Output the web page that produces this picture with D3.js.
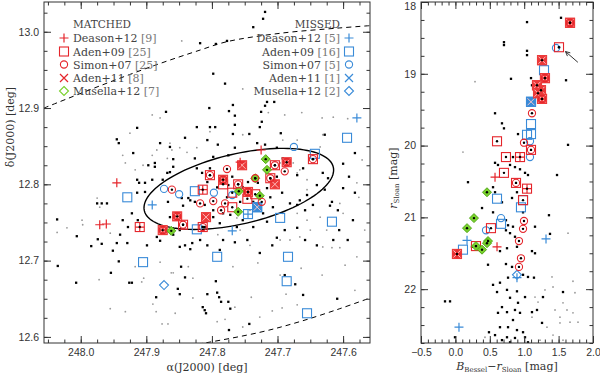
<!DOCTYPE html>
<html><head><meta charset="utf-8">
<script src="https://cdn.jsdelivr.net/npm/d3@7"></script>
<style>body{margin:0;background:#fff}svg{display:block}</style>
</head><body>
<svg id="c" width="600" height="374"></svg>
<script>
// ---------------- DATA ----------------
const catalogs = ["Deason+12","Aden+09","Simon+07","Aden+11","Musella+12"];
const matchedCounts = [9,25,25,8,7];
const missedCounts = [5,16,5,1,2];
const xTicksL = [248.0,247.9,247.8,247.7,247.6];
const yTicksL = [12.6,12.7,12.8,12.9,13.0];
const xTicksR = [-0.5,0.0,0.5,1.0,1.5,2.0];
const yTicksR = [18,19,20,21,22];

// left panel: sky positions [RA, Dec]
const starsL = [[247.870,12.895],[247.914,12.874],[247.823,12.875],[247.719,13.026],[247.722,13.017],[247.737,13.006],[247.818,12.985],[247.794,12.984],[247.777,12.988],[247.798,12.945],[247.780,12.932],[247.716,12.908],[247.705,12.908],[247.719,12.903],[247.804,12.900],[247.768,12.904],[247.774,12.896],[247.765,12.890],[247.725,12.895],[247.724,12.882],[247.727,12.875],[247.803,12.875],[247.795,12.875],[247.765,12.878],
[247.945,12.859],[247.942,12.854],[247.920,12.841],[248.036,12.754],[248.006,12.732],[247.984,12.719],[247.974,12.728],[247.968,12.722],[247.975,12.775],[247.968,12.775],[247.960,12.775],[247.914,12.806],[247.911,12.802],[247.902,12.802],[247.914,12.789],[247.891,12.806],[247.875,12.806],[247.868,12.815],[247.864,12.816],[247.902,12.790],[247.922,12.762],[247.936,12.753],[247.928,12.744],[247.913,12.753],[247.940,12.734],[247.945,12.723],[247.929,12.723],[247.951,12.713],[247.899,12.720],[247.884,12.731],[247.879,12.726],[247.872,12.736],[247.849,12.718],[247.841,12.720],[247.833,12.715],[247.830,12.723],[247.859,12.734],[247.849,12.740],[247.867,12.777],[247.846,12.782],[247.836,12.782],[247.833,12.779],[247.826,12.777],[247.844,12.772],[247.864,12.757],[247.897,12.825],[247.887,12.823],[247.887,12.828],[247.859,12.833],[247.859,12.823],[247.823,12.821],[247.826,12.834],[247.864,12.849],[247.841,12.861],[247.879,12.854],
[248.035,12.693],[248.007,12.671],[247.954,12.684],[247.942,12.699],[247.926,12.671],[247.922,12.671],[247.885,12.652],[247.852,12.663],[247.849,12.656],[247.847,12.692],[247.841,12.678],
[247.794,12.673],[247.792,12.658],[247.789,12.652],[247.786,12.646],[247.814,12.639],[247.811,12.635],[247.809,12.631],[247.775,12.646],[247.772,12.637],[247.774,12.609],[247.743,12.617],[247.807,12.656],[247.689,12.681],[247.673,12.669],[247.661,12.655],[247.609,12.650],
[247.743,12.866],[247.695,12.867],[247.628,12.865],[247.582,12.841],[247.600,12.827],[247.591,12.810],[247.623,12.808],[247.631,12.815],[247.640,12.799],[247.628,12.793],[247.600,12.795],[247.582,12.789],[247.666,12.779],[247.655,12.786],[247.646,12.773],[247.617,12.777],[247.608,12.766],[247.620,12.772],[247.658,12.766],[247.670,12.773],[247.681,12.775],[247.585,12.753],[247.606,12.740],[247.593,12.727],[247.615,12.727],[247.640,12.720],[247.658,12.727],[247.670,12.743],[247.689,12.740],[247.701,12.730],[247.708,12.720],[247.727,12.710],[247.746,12.727],[247.765,12.724],[247.783,12.727],[247.788,12.714],[247.807,12.720],[247.762,12.744],[247.737,12.744],[247.716,12.751],[247.753,12.753],[247.788,12.749],[247.798,12.757],[247.811,12.773],[247.798,12.766],[247.783,12.762],[247.777,12.783],[247.792,12.796],[247.807,12.803],[247.803,12.821],[247.788,12.810],[247.815,12.815],[247.798,12.836],[247.775,12.838],[247.765,12.848],[247.791,12.852],[247.807,12.858],[247.768,12.866],[247.731,12.854],[247.719,12.852],[247.701,12.848],[247.692,12.834],[247.661,12.821],[247.670,12.812],[247.701,12.810],[247.693,12.789],[247.711,12.783],[247.707,12.770],[247.722,12.762],[247.737,12.777],[247.753,12.796],[247.769,12.810],[247.775,12.799],[247.745,12.803],[247.730,12.802],[247.716,12.795],[247.757,12.777],[247.772,12.760],[247.811,12.744],[247.818,12.727]];

const fieldL = [[247.846,12.988],[247.891,12.891],[247.879,12.887],[247.753,12.925],[247.714,12.894],[247.689,12.891],[247.663,12.894],[247.632,12.887],[247.615,12.888],[247.593,12.886],
[247.936,12.838],[247.932,12.828],[247.905,12.825],[247.975,12.782],[247.971,12.770],[248.036,12.737],[248.021,12.743],[247.998,12.753],[247.997,12.747],[247.955,12.736],[247.864,12.854],[247.861,12.845],[247.849,12.848],[247.838,12.842],[247.823,12.848],[247.925,12.867],[247.891,12.838],[247.884,12.845],[247.917,12.819],[247.868,12.834],
[247.972,12.675],[247.955,12.637],[247.932,12.633],[247.917,12.692],[247.907,12.672],[247.904,12.677],[247.890,12.643],[247.885,12.633],[247.876,12.617],[247.867,12.617],[247.856,12.631],[247.862,12.684],[247.859,12.684],[247.836,12.692],[247.829,12.651],[247.829,12.677],[247.879,12.698],
[247.768,12.692],[247.730,12.697],[247.696,12.681],[247.687,12.656],[247.664,12.690],[247.632,12.681],[247.670,12.642],[247.740,12.652],[247.765,12.639],[247.780,12.623],[247.792,12.620],[247.708,12.634],[247.693,12.638],[247.727,12.626],[247.753,12.613],
[247.803,12.869],[247.753,12.865],[247.692,12.858],[247.670,12.858],[247.631,12.865],[247.579,12.802],[247.576,12.783],[247.605,12.775],[247.600,12.762],[247.635,12.757],[247.655,12.753],[247.670,12.762],[247.692,12.762],[247.625,12.740],[247.650,12.740],[247.666,12.731],[247.681,12.727],[247.696,12.727],[247.742,12.720],[247.631,12.718],[247.617,12.717],[247.605,12.717],[247.579,12.705],[247.670,12.815],[247.666,12.819],[247.655,12.806],[247.676,12.828],[247.650,12.842],[247.635,12.849],[247.696,12.828],[247.742,12.766],[247.762,12.756],[247.791,12.734],[247.757,12.740],[247.655,12.793],
[247.571,12.832],[247.597,12.694],[247.582,12.661],[247.567,12.740]];

// matched (red) and missed (blue) candidates, left panel
const matDeasonL = [[247.945,12.802],[247.971,12.747],[247.961,12.748],[247.725,12.845],[247.757,12.829],[247.910,12.744],[247.814,12.793]];
const matAden09L = [[247.910,12.744],[247.844,12.747],[247.646,12.833],[247.704,12.825],[247.803,12.812],[247.711,12.808],[247.760,12.800],[247.769,12.789],[247.814,12.793],[247.769,12.770],[247.814,12.744],[247.783,12.800],[247.734,12.787],[247.746,12.781]];
const matAden11L = [[247.853,12.758],[247.875,12.740],[247.754,12.825],[247.686,12.829],[247.783,12.806],[247.704,12.800],[247.745,12.790],[247.809,12.757]];
const matSimonL = [[247.861,12.793],[247.818,12.775],[247.853,12.758],[247.777,12.820],[247.689,12.817],[247.704,12.825],[247.798,12.778],[247.780,12.775],[247.786,12.766],[247.724,12.777],[247.760,12.800],[247.646,12.833],[247.803,12.812],[247.814,12.744],[247.711,12.808],[247.844,12.747],[247.745,12.790],[247.686,12.829],[247.783,12.806],[247.875,12.740],[247.734,12.808]];
const matMusellaL = [[247.862,12.739],[247.718,12.833],[247.716,12.819],[247.759,12.791],[247.727,12.785],[247.760,12.764],[247.734,12.808]];
const misDeasonL = [[247.891,12.773],[247.769,12.739],[247.579,12.887],[247.745,12.761]];
const misAden09L = [[247.929,12.783],[247.826,12.791],[247.823,12.741],[247.594,12.861],[247.643,12.840],[247.745,12.761],[247.731,12.770],[247.696,12.756],[247.617,12.751],[247.792,12.705],[247.684,12.705],[247.905,12.698],[247.686,12.673],[247.655,12.631]];
const misSimonL = [[247.873,12.794],[247.850,12.787],[247.675,12.849],[247.797,12.789],[247.769,12.786]];
const misAden11L = [[247.731,12.770]];
const misMusellaL = [[247.873,12.668]];

// tidal ellipse and dashed boundary
const ellipseL = {ra:247.759, dec:12.794, a:0.127, b:0.046, pa:13};
const dashTop = [[248.056,12.900],[247.971,12.929],[247.887,12.956],[247.818,12.976],[247.777,12.987],[247.696,12.998],[247.605,13.005],[247.559,13.008]];
const dashBot = [[247.849,12.587],[247.811,12.592],[247.727,12.606],[247.666,12.620],[247.605,12.637],[247.559,12.651]];

// right panel: CMD [B-r, r]
const starsR = [[1.535,18.22],[1.041,18.28],[0.706,18.56],[0.706,18.60],[1.041,18.68],[1.041,18.74],[1.506,18.63],[0.808,19.07],[1.608,19.09],[1.099,19.06],[1.113,19.16],[1.070,19.43],[0.576,19.55],[0.677,19.69],[0.706,19.76],[0.910,19.84],[1.637,19.99],[0.837,20.16],[0.576,20.24],[0.619,20.27],[0.794,20.27],[0.866,20.30],[0.939,20.33],[1.012,20.38],[1.055,20.41],[1.477,20.41],[0.183,20.51],[0.547,20.58],[0.576,20.65],[0.677,20.79],[0.823,20.73],[0.895,20.65],[0.983,20.93],[0.387,20.87],[0.547,20.93],[1.360,20.97],[0.735,21.04],[0.765,21.11],[0.837,21.13],[0.735,21.18],[1.157,21.13],[1.375,21.23],[0.794,21.22],[0.866,21.27],[0.241,21.41],[0.648,21.47],[0.750,21.43],[0.895,21.41],[1.113,21.47],[1.157,21.50],[0.474,21.66],[0.735,21.65],[0.823,21.69],[0.983,21.80],[1.055,21.83],[1.142,21.84],[0.765,21.84],[0.648,21.91],[0.547,21.94],[0.605,22.04],[0.750,22.01],[0.895,22.03],[0.794,22.12],[1.012,22.11],[0.910,22.19],[0.677,22.25],[0.750,22.32],[0.619,22.33],[0.866,22.29],[0.939,22.33],[1.113,22.32],[1.186,22.29],[1.259,22.47],[0.837,22.43],[0.765,22.53],[0.648,22.53],[0.895,22.57],[0.983,22.60],[0.750,22.67],[0.866,22.68],[1.012,22.67],[0.576,22.64],[0.677,22.71],[1.055,22.74],[0.794,22.74],[0.488,22.60],[-0.151,22.17],[-0.078,22.17],[-0.006,22.67],[1.273,22.11],[1.564,22.04]];
const fieldR = [[0.285,19.11],[0.110,20.09],[1.637,21.22],[1.404,21.83],[1.419,21.97],[1.709,21.89],[1.738,22.05],[1.157,22.11],[1.564,22.19],[1.448,22.29],[1.622,22.29],[1.709,22.33],[1.520,22.39],[1.666,22.46],[1.782,22.46],[1.331,22.53],[1.419,22.64],[1.564,22.71],[1.230,22.71],[0.430,22.67],[1.113,22.39],[1.201,22.18],[1.520,22.47],[1.302,22.01]];
const matAden09R = [[1.666,18.29],[1.506,18.63],[1.259,18.81],[1.302,19.06],[1.186,19.16],[1.244,19.23],[1.201,19.27],[1.259,19.35],[0.605,19.94],[1.099,20.06],[0.735,20.16],[0.939,20.16],[0.706,20.38],[0.881,20.52],[1.041,20.60],[0.983,20.76],[0.517,21.15],[0.299,21.40],[0.023,21.51]];
const matAden11R = [[1.666,18.29],[1.259,18.81],[1.302,19.06],[1.186,19.16],[1.244,19.23],[1.201,19.27],[1.259,19.35],[0.023,21.51]];
const matSimonR = [[1.666,18.29],[1.302,19.06],[1.259,19.35],[1.113,19.55],[0.997,19.96],[1.099,20.06],[0.881,20.52],[0.997,21.05],[0.983,21.16],[0.924,21.33],[0.953,21.57],[0.924,21.69]];
const matDeasonR = [[0.576,20.44],[0.605,21.41],[0.939,20.16],[1.041,20.60],[0.023,21.51]];
const matMusellaR = [[0.459,20.65],[0.270,21.01],[0.169,21.15],[0.474,21.33],[0.459,21.36],[0.299,21.40],[0.387,21.45]];
const misDeasonR = [[0.169,21.32],[1.317,21.30],[0.052,22.53],[0.895,21.84]];
const misAden09R = [[1.288,18.95],[1.099,19.39],[1.099,19.70],[1.099,19.84],[1.041,19.85],[0.605,20.74],[0.953,20.86],[0.663,21.09],[0.110,21.45],[0.983,20.76]];
const misSimonR = [[1.462,18.64],[1.084,19.94],[1.084,20.16],[0.663,21.01],[0.445,21.18]];
const misAden11R = [[1.099,19.39]];
const misMusellaR = [[0.895,21.80]];
const arrowR = [[1.78,18.84],[1.60,18.69]];

// ---------------- DRAW ----------------
const RED = "#e5252b", BLUE = "#3a8bd8", GREEN = "#79d12c", GSTROKE = "#52a817";
const svg = d3.select("#c");
const L = {x0:44, x1:370, y0:2, y1:343};
const R = {x0:421, x1:593, y0:2, y1:343};
const xL = d3.scaleLinear().domain([248.056,247.559]).range([L.x0,L.x1]);
const yL = d3.scaleLinear().domain([12.592,13.039]).range([L.y1,L.y0]);
const xR = d3.scaleLinear().domain([-0.5,2.0]).range([R.x0,R.x1]);
const yR = d3.scaleLinear().domain([18,22.75]).range([R.y0,R.y1]);

const defs = svg.append("defs");
defs.append("clipPath").attr("id","clipL").append("rect").attr("x",L.x0).attr("y",L.y0).attr("width",L.x1-L.x0).attr("height",L.y1-L.y0);
defs.append("clipPath").attr("id","clipR").append("rect").attr("x",R.x0).attr("y",R.y0).attr("width",R.x1-R.x0).attr("height",R.y1-R.y0);

function sym(g, type, x, y, color){
  const s = 4.5;
  if(type==="plus") g.append("path").attr("d",`M${x-s},${y}H${x+s}M${x},${y-s}V${y+s}`).attr("stroke",color).attr("stroke-width",1.2).attr("fill","none");
  else if(type==="square") g.append("rect").attr("x",x-s).attr("y",y-s).attr("width",2*s).attr("height",2*s).attr("fill","none").attr("stroke",color).attr("stroke-width",1.1);
  else if(type==="circle") g.append("circle").attr("cx",x).attr("cy",y).attr("r",3.6).attr("fill","none").attr("stroke",color).attr("stroke-width",1.1);
  else if(type==="cross") g.append("path").attr("d",`M${x-4},${y-4}L${x+4},${y+4}M${x-4},${y+4}L${x+4},${y-4}`).attr("stroke",color).attr("stroke-width",1.2).attr("fill","none");
  else if(type==="diamond") g.append("path").attr("d",`M${x},${y-s}L${x+s},${y}L${x},${y+s}L${x-s},${y}Z`).attr("fill","none").attr("stroke",color).attr("stroke-width",1.1);
  else if(type==="fdiamond") g.append("path").attr("d",`M${x},${y-s}L${x+s},${y}L${x},${y+s}L${x-s},${y}Z`).attr("fill",GREEN).attr("stroke",GSTROKE).attr("stroke-width",1);
  else if(type==="fsquare"){
    g.append("rect").attr("x",x-s).attr("y",y-s).attr("width",2*s).attr("height",2*s).attr("fill",color).attr("stroke",color).attr("stroke-width",1.1);
    g.append("path").attr("d",`M${x-3.5},${y-3.5}L${x+3.5},${y+3.5}M${x-3.5},${y+3.5}L${x+3.5},${y-3.5}`).attr("stroke","#ffc8c8").attr("stroke-width",0.9);
  }
}

function panel(clip){
  return svg.append("g").attr("clip-path",`url(#${clip})`);
}

// ---- Left panel ----
const gL = panel("clipL");
gL.selectAll(".f").data(fieldL).enter().append("circle").attr("cx",d=>xL(d[0])).attr("cy",d=>yL(d[1])).attr("r",0.9).attr("fill","#9a9a9a");
const line = d3.line().x(d=>xL(d[0])).y(d=>yL(d[1])).curve(d3.curveCatmullRom);
gL.append("path").attr("d",line(dashTop)).attr("fill","none").attr("stroke","#000").attr("stroke-width",1).attr("stroke-dasharray","5,4");
gL.append("path").attr("d",line(dashBot)).attr("fill","none").attr("stroke","#000").attr("stroke-width",1).attr("stroke-dasharray","5,4");
// ellipse
const ellPts = d3.range(0,361,3).map(t=>{
  const r=t*Math.PI/180, p=ellipseL.pa*Math.PI/180;
  const xo = ellipseL.a*Math.cos(r)*Math.cos(p) - ellipseL.b*Math.sin(r)*Math.sin(p);
  const yo = ellipseL.a*Math.cos(r)*Math.sin(p) + ellipseL.b*Math.sin(r)*Math.cos(p);
  return [ellipseL.ra - xo*(763/655.5), ellipseL.dec + yo];
});
gL.append("path").attr("d",d3.line().x(d=>xL(d[0])).y(d=>yL(d[1]))(ellPts)+"Z").attr("fill","none").attr("stroke","#000").attr("stroke-width",1.4);
gL.selectAll(".s").data(starsL).enter().append("rect").attr("x",d=>xL(d[0])-1.15).attr("y",d=>yL(d[1])-1.15).attr("width",2.3).attr("height",2.3).attr("fill","#000");

function drawCats(g, xs, ys, sets){
  sets.forEach(([arr,type,color])=>arr.forEach(d=>sym(g,type,xs(d[0]),ys(d[1]),color)));
}
drawCats(gL,xL,yL,[[misAden09L,"square",BLUE],[misSimonL,"circle",BLUE],[misDeasonL,"plus",BLUE],[misMusellaL,"diamond",BLUE]]);
misAden11L.forEach(d=>{sym(gL,"fsquare",xL(d[0]),yL(d[1]),BLUE);});
drawCats(gL,xL,yL,[[matAden09L,"square",RED],[matAden11L,"fsquare","#ec3a3a"],[matMusellaL,"fdiamond",GREEN],[matSimonL,"circle",RED],[matDeasonL,"plus",RED]]);
[...matAden09L,...matSimonL,...matMusellaL].forEach(d=>gL.append("circle").attr("cx",xL(d[0])).attr("cy",yL(d[1])).attr("r",1.2).attr("fill","#000"));

// ---- Right panel ----
const gR = panel("clipR");
gR.selectAll(".f").data(fieldR).enter().append("circle").attr("cx",d=>xR(d[0])).attr("cy",d=>yR(d[1])).attr("r",0.9).attr("fill","#9a9a9a");
gR.selectAll(".s").data(starsR).enter().append("rect").attr("x",d=>xR(d[0])-1.15).attr("y",d=>yR(d[1])-1.15).attr("width",2.3).attr("height",2.3).attr("fill","#000");
drawCats(gR,xR,yR,[[misAden09R,"square",BLUE],[misSimonR,"circle",BLUE],[misDeasonR,"plus",BLUE],[misMusellaR,"diamond",BLUE]]);
misAden11R.forEach(d=>{sym(gR,"fsquare",xR(d[0]),yR(d[1]),BLUE);});
drawCats(gR,xR,yR,[[matAden09R,"square",RED],[matAden11R,"fsquare","#ec3a3a"],[matMusellaR,"fdiamond",GREEN],[matSimonR,"circle",RED],[matDeasonR,"plus",RED]]);
[...matAden09R,...matSimonR,...matMusellaR].forEach(d=>gR.append("circle").attr("cx",xR(d[0])).attr("cy",yR(d[1])).attr("r",1.2).attr("fill","#000"));
// arrow
const a0=[xR(arrowR[0][0]),yR(arrowR[0][1])], a1=[xR(arrowR[1][0]),yR(arrowR[1][1])];
const ang=Math.atan2(a1[1]-a0[1],a1[0]-a0[0]);
svg.append("path").attr("d",`M${a0[0]},${a0[1]}L${a1[0]},${a1[1]}M${a1[0]+5*Math.cos(ang+Math.PI-0.45)},${a1[1]+5*Math.sin(ang+Math.PI-0.45)}L${a1[0]},${a1[1]}L${a1[0]+5*Math.cos(ang+Math.PI+0.45)},${a1[1]+5*Math.sin(ang+Math.PI+0.45)}`).attr("fill","none").attr("stroke","#333").attr("stroke-width",1);

// ---- Axes ----
const TF = "'Liberation Sans', Arial, sans-serif";
function axes(P, xs, ys, xt, yt, xminor, yminor, fx, fy){
  const g = svg.append("g");
  const mk = (axis, tr) => { const a = g.append("g").attr("transform",tr).call(axis); a.select(".domain").remove(); a.selectAll("line").attr("stroke","#333"); return a; };
  const b = mk(d3.axisBottom(xs).tickValues(xt).tickSize(-7).tickPadding(6).tickFormat(fx), `translate(0,${P.y1})`);
  const l = mk(d3.axisLeft(ys).tickValues(yt).tickSize(-7).tickPadding(5).tickFormat(fy), `translate(${P.x0},0)`);
  mk(d3.axisTop(xs).tickValues(xt).tickSize(-7).tickFormat(""), `translate(0,${P.y0})`);
  mk(d3.axisRight(ys).tickValues(yt).tickSize(-7).tickFormat(""), `translate(${P.x1},0)`);
  mk(d3.axisBottom(xs).tickValues(xminor).tickSize(-3.5).tickFormat(""), `translate(0,${P.y1})`);
  mk(d3.axisTop(xs).tickValues(xminor).tickSize(-3.5).tickFormat(""), `translate(0,${P.y0})`);
  mk(d3.axisLeft(ys).tickValues(yminor).tickSize(-3.5).tickFormat(""), `translate(${P.x0},0)`);
  mk(d3.axisRight(ys).tickValues(yminor).tickSize(-3.5).tickFormat(""), `translate(${P.x1},0)`);
  [b,l].forEach(a=>a.selectAll("text").attr("font-family",TF).attr("font-size",10.5).attr("fill","#333"));
  g.append("rect").attr("x",P.x0).attr("y",P.y0).attr("width",P.x1-P.x0).attr("height",P.y1-P.y0).attr("fill","none").attr("stroke","#333").attr("stroke-width",1);
  return l;
}
axes(L,xL,yL,xTicksL,yTicksL,
  d3.range(0,20).map(i=>248.05-i*0.025),
  d3.range(0,18).map(i=>12.6+i*0.025),
  d3.format(".1f"), d3.format(".1f"));
const lR = axes(R,xR,yR,xTicksR,yTicksR,
  d3.range(0,26).map(i=>-0.5+i*0.1),
  d3.range(0,20).map(i=>18+i*0.25),
  d=>(d<0?"\u2212":"")+Math.abs(d).toFixed(1), d3.format("d"));
lR.selectAll("text").filter(d=>d===18).attr("dy","0.75em");

// ---- Titles ----
const SF = "'DejaVu Serif', serif";
svg.append("text").attr("x",207).attr("y",371).attr("text-anchor","middle").attr("font-family",SF).attr("font-size",11).attr("fill","#333").text("\u03b1(J2000) [deg]");
svg.append("text").attr("transform","translate(14,127) rotate(-90)").attr("text-anchor","middle").attr("font-family",SF).attr("font-size",11).attr("fill","#333").text("\u03b4(J2000) [deg]");
const tx = svg.append("text").attr("x",507).attr("y",370).attr("text-anchor","middle").attr("font-family",SF).attr("font-size",11).attr("fill","#333");
tx.append("tspan").attr("font-style","italic").text("B");
tx.append("tspan").attr("font-size",7).attr("dy",2).text("Bessel");
tx.append("tspan").attr("dy",-2).text("\u2212");
tx.append("tspan").attr("font-style","italic").text("r");
tx.append("tspan").attr("font-size",7).attr("dy",2).text("Sloan");
tx.append("tspan").attr("dy",-2).text(" [mag]");
const ty = svg.append("text").attr("transform","translate(397,178) rotate(-90)").attr("text-anchor","middle").attr("font-family",SF).attr("font-size",11).attr("fill","#333");
ty.append("tspan").attr("font-style","italic").text("r");
ty.append("tspan").attr("font-size",7).attr("dy",2).text("Sloan");
ty.append("tspan").attr("dy",-2).text(" [mag]");

// ---- Legend ----
const types = ["plus","square","circle","cross","diamond"];
const rowsY = [38,51.5,64.5,78,91];
const lg = svg.append("g").attr("font-family",SF).attr("font-size",11);
lg.append("text").attr("x",73).attr("y",28).attr("fill","#444").attr("font-size",10.5).text("MATCHED");
lg.append("text").attr("x",340).attr("y",28).attr("text-anchor","end").attr("fill","#444").attr("font-size",10.5).text("MISSED");
catalogs.forEach((c,i)=>{
  const lc = i===4 ? GREEN : RED;
  sym(lg, types[i], 64, rowsY[i], lc);
  const t1 = lg.append("text").attr("x",73).attr("y",rowsY[i]+4).attr("fill","#444");
  t1.append("tspan").text(c+" ");
  t1.append("tspan").attr("fill","#777").text("["+matchedCounts[i]+"]");
  sym(lg, types[i], 349, rowsY[i], BLUE);
  const t2 = lg.append("text").attr("x",340).attr("y",rowsY[i]+4).attr("text-anchor","end").attr("fill","#444");
  t2.append("tspan").text(c+" ");
  t2.append("tspan").attr("fill","#777").text("["+missedCounts[i]+"]");
});
</script>
</body></html>
